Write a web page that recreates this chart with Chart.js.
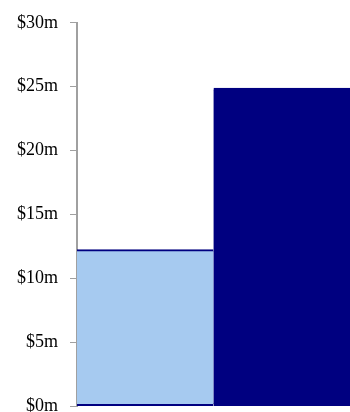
<!DOCTYPE html>
<html>
<head>
<meta charset="utf-8">
<script src="https://cdn.jsdelivr.net/npm/chart.js@4"></script>
<style>
  html, body { margin: 0; padding: 0; background: #fff; overflow: hidden; }
  #wrap { width: 350px; height: 429px; }
</style>
</head>
<body>
<div id="wrap"><canvas id="mychart"></canvas></div>
<script>
const categories = ['Segment A', 'Segment B'];
const values = [12.25, 24.9]; // $ millions
const barColors = ['#A6CAF0', '#000080'];
const tickValues = [0, 5, 10, 15, 20, 25, 30];

const ctx = document.getElementById('mychart');

new Chart(ctx, {
  type: 'bar',
  data: {
    labels: categories,
    datasets: [{
      data: values,
      backgroundColor: barColors,
      borderColor: '#000080',
      borderWidth: { top: 2, bottom: 2, left: 0, right: 0 },
      borderSkipped: false,
      barPercentage: 1,
      categoryPercentage: 1
    }]
  },
  options: {
    responsive: true,
    maintainAspectRatio: false,
    animation: false,
    layout: {
      padding: { left: 5, right: 0, top: 12, bottom: 0 }
    },
    plugins: {
      legend: { display: false },
      tooltip: { enabled: false }
    },
    scales: {
      x: {
        display: false
      },
      y: {
        min: 0,
        max: 30,
        afterBuildTicks: (scale) => {
          scale.ticks = tickValues.map(v => ({ value: v }));
        },
        border: { color: '#A0A0A0', width: 2 },
        grid: {
          drawOnChartArea: false,
          color: '#A0A0A0',
          tickLength: 7,
          lineWidth: 1
        },
        ticks: {
          padding: 12,
          color: '#000',
          font: { family: '"Liberation Serif", "Times New Roman", serif', size: 18 },
          callback: (v) => '$' + v + 'm'
        }
      }
    }
  }
});
</script>
</body>
</html>
